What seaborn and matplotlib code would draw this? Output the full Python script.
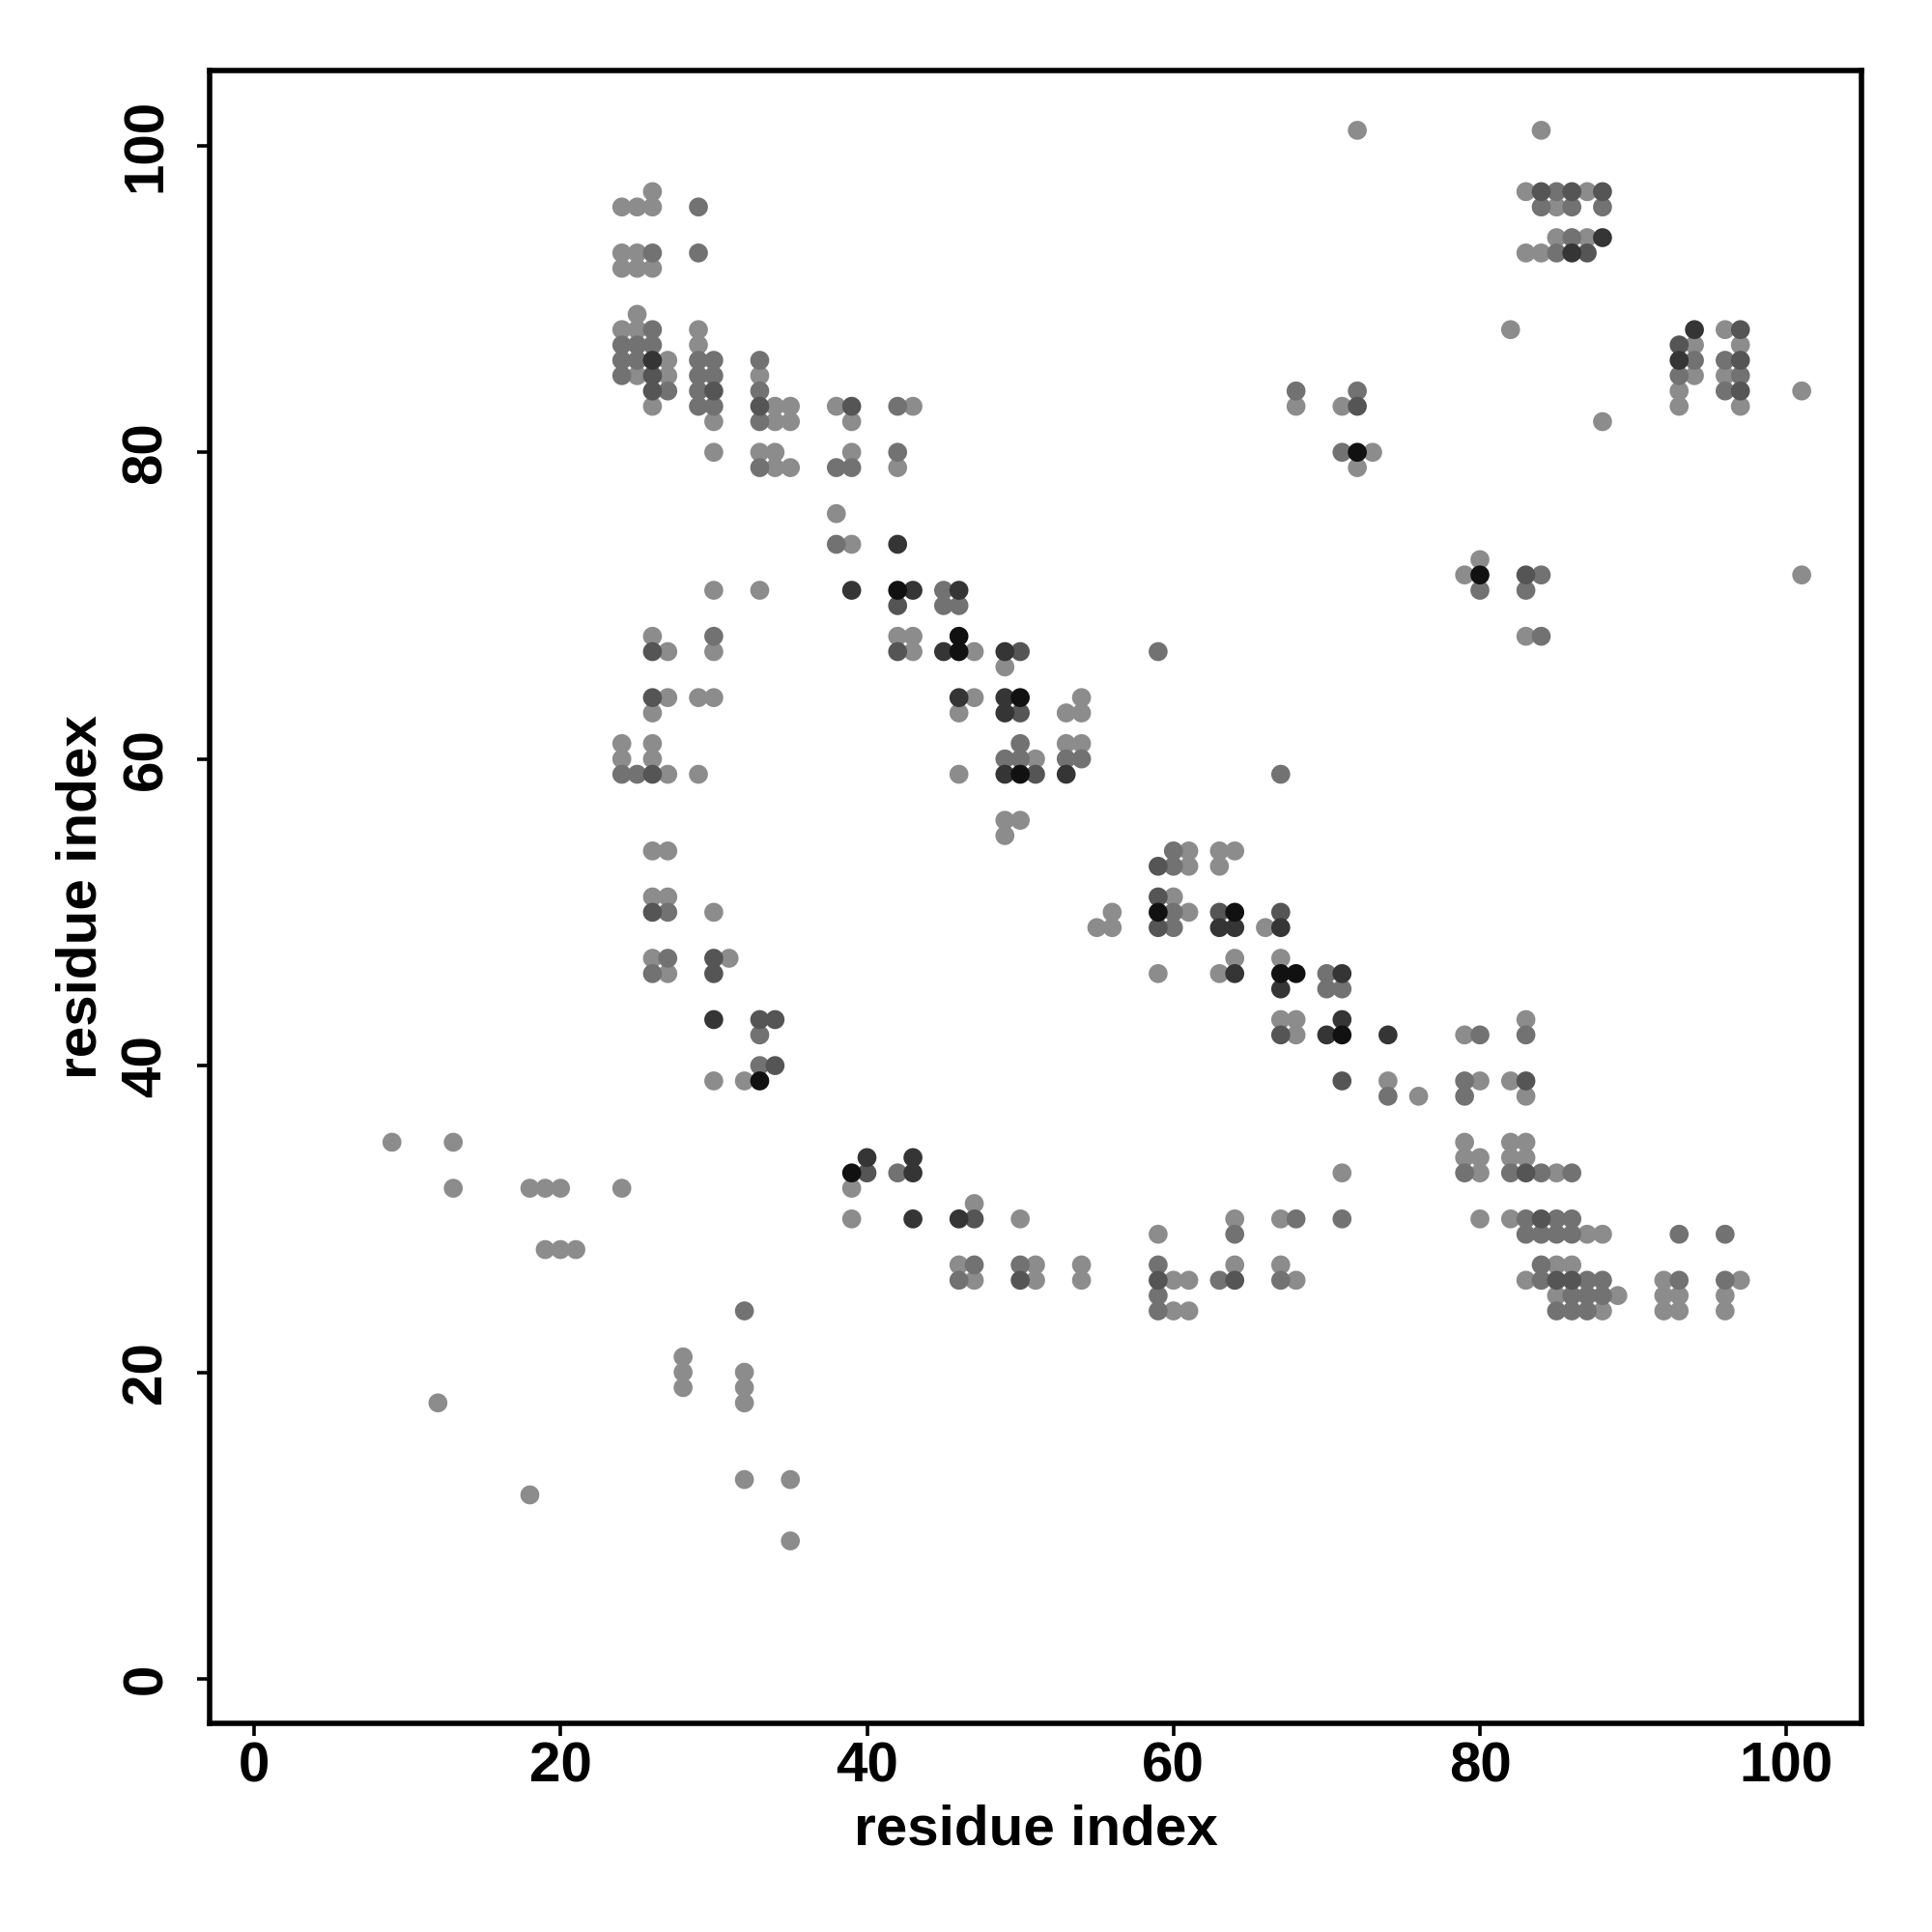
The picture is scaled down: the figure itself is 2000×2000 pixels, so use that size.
import matplotlib
matplotlib.use("Agg")
import matplotlib.pyplot as plt
import seaborn as sns
import pandas as pd

# contact map points: (residue i, residue j, shade level 1 light ... 5 black)
upper_left = [
    (26, 97, 1),
    (24, 96, 1), (25, 96, 1), (26, 96, 1), (29, 96, 2),
    (24, 93, 1), (25, 93, 1), (26, 93, 2), (29, 93, 2),
    (24, 92, 1), (25, 92, 1), (26, 92, 1),
    (25, 89, 1),
    (24, 88, 1), (25, 88, 1), (26, 88, 2), (29, 88, 1),
    (24, 87, 2), (25, 87, 2), (26, 87, 2), (29, 87, 1),
    (24, 86, 2), (25, 86, 2), (26, 86, 4), (27, 86, 1), (29, 86, 2), (30, 86, 2),
    (24, 85, 2), (25, 85, 1), (26, 85, 3), (27, 85, 1), (29, 85, 2), (30, 85, 2),
    (26, 84, 3), (27, 84, 2), (29, 84, 2), (30, 84, 3),
    (26, 83, 1), (29, 83, 2), (30, 83, 2),
    (30, 82, 1), (30, 80, 1),
    (33, 86, 2), (33, 85, 1), (33, 84, 2), (33, 83, 3), (33, 82, 2), (33, 80, 1), (33, 79, 2),
    (34, 83, 1), (34, 82, 1), (34, 80, 1), (34, 79, 1),
    (35, 83, 1), (35, 82, 1), (35, 79, 1),
]
diagonal_a = [
    (38, 83, 1), (39, 83, 3), (42, 83, 2), (43, 83, 1),
    (39, 82, 1), (39, 80, 1), (42, 80, 2),
    (38, 79, 2), (39, 79, 2), (42, 79, 1),
    (38, 76, 1),
    (38, 74, 2), (39, 74, 1), (42, 74, 4),
    (33, 71, 1), (39, 71, 4), (42, 71, 5), (43, 71, 4), (45, 71, 2), (46, 71, 4),
    (42, 70, 3), (45, 70, 2), (46, 70, 2),
    (42, 68, 1), (43, 68, 1), (46, 68, 5),
    (42, 67, 3), (43, 67, 1), (45, 67, 4), (46, 67, 5), (47, 67, 1), (49, 67, 4), (50, 67, 3),
    (49, 66, 1),
    (46, 64, 4), (47, 64, 1), (49, 64, 4), (50, 64, 5), (54, 64, 1),
    (46, 63, 1), (49, 63, 4), (50, 63, 3), (53, 63, 1), (54, 63, 1),
    (50, 61, 2), (53, 61, 1), (54, 61, 1),
    (49, 60, 2), (50, 60, 2), (51, 60, 1), (53, 60, 2), (54, 60, 2),
    (46, 59, 1), (49, 59, 4), (50, 59, 5), (51, 59, 3), (53, 59, 4),
    (49, 56, 1), (50, 56, 1), (49, 55, 1),
    (56, 50, 1), (55, 49, 1), (56, 49, 1),
]
left_middle = [
    (30, 71, 1), (26, 68, 1), (30, 68, 2),
    (26, 67, 3), (27, 67, 1), (30, 67, 1),
    (26, 64, 3), (27, 64, 1), (29, 64, 1), (30, 64, 1),
    (26, 63, 1), (24, 61, 1), (26, 61, 1), (24, 60, 1), (26, 60, 1),
    (24, 59, 2), (25, 59, 2), (26, 59, 3), (27, 59, 1), (29, 59, 1),
    (26, 54, 1), (27, 54, 1), (26, 51, 1), (27, 51, 1),
    (26, 50, 3), (27, 50, 2), (30, 50, 1),
    (26, 47, 1), (27, 47, 2), (30, 47, 3), (31, 47, 1),
    (26, 46, 2), (27, 46, 1), (30, 46, 3),
    (30, 43, 4), (33, 43, 3), (34, 43, 3),
    (33, 42, 2), (33, 40, 2), (34, 40, 3),
    (30, 39, 1), (32, 39, 1), (33, 39, 5),
]
lower_left = [
    (9, 35, 1), (13, 35, 1), (13, 32, 1), (18, 32, 1), (19, 32, 1), (20, 32, 1), (24, 32, 1),
    (19, 28, 1), (20, 28, 1), (21, 28, 1),
    (32, 24, 2), (28, 21, 1), (28, 20, 1), (28, 19, 1),
    (32, 20, 1), (32, 19, 1), (32, 18, 1), (12, 18, 1),
    (32, 13, 1), (35, 13, 1), (18, 12, 1), (35, 9, 1),
]
lower_band = [
    (39, 33, 5), (40, 34, 4), (40, 33, 3), (42, 33, 2), (43, 34, 4), (43, 33, 4),
    (39, 32, 1), (47, 31, 1),
    (39, 30, 1), (43, 30, 4), (46, 30, 4), (47, 30, 3), (50, 30, 1),
    (46, 27, 1), (47, 27, 2), (50, 27, 2), (51, 27, 1), (54, 27, 1),
    (46, 26, 2), (47, 26, 1), (50, 26, 3), (51, 26, 1), (54, 26, 1),
    (59, 29, 1), (64, 30, 1), (64, 29, 2), (67, 30, 1), (68, 30, 2), (71, 30, 2), (71, 33, 1),
    (59, 27, 2), (64, 27, 1), (67, 27, 1),
    (59, 26, 3), (60, 26, 1), (61, 26, 1), (63, 26, 2), (64, 26, 3), (67, 26, 2), (68, 26, 1),
    (59, 25, 2), (59, 24, 2), (60, 24, 1), (61, 24, 1),
]
diagonal_b = [
    (67, 59, 2), (59, 67, 2),
    (60, 54, 2), (61, 54, 1), (63, 54, 1), (64, 54, 1),
    (59, 53, 3), (60, 53, 2), (61, 53, 1), (63, 53, 1),
    (59, 51, 3), (60, 51, 1),
    (59, 50, 5), (60, 50, 2), (61, 50, 1), (63, 50, 3), (64, 50, 5), (67, 50, 3),
    (59, 49, 3), (60, 49, 2), (63, 49, 4), (64, 49, 4), (66, 49, 1), (67, 49, 4),
    (64, 47, 1), (67, 47, 1),
    (59, 46, 1), (63, 46, 1), (64, 46, 4), (67, 46, 5), (68, 46, 5), (70, 46, 2), (71, 46, 4),
    (67, 45, 4), (70, 45, 2), (71, 45, 2),
    (67, 43, 1), (68, 43, 1), (71, 43, 4),
    (67, 42, 3), (68, 42, 1), (70, 42, 4), (71, 42, 5), (74, 42, 4), (79, 42, 1), (80, 42, 2),
    (71, 39, 3), (74, 39, 1), (79, 39, 2), (80, 39, 1), (82, 39, 1), (83, 39, 3),
    (74, 38, 2), (76, 38, 1), (79, 38, 2), (83, 38, 1),
    (79, 35, 1), (82, 35, 1), (83, 35, 1),
    (79, 34, 1), (80, 34, 1), (82, 34, 1), (83, 34, 1),
    (79, 33, 2), (80, 33, 1), (82, 33, 2), (83, 33, 3), (84, 33, 2), (85, 33, 1), (86, 33, 2),
    (83, 43, 1), (83, 42, 2),
]
lower_right = [
    (80, 30, 1), (82, 30, 1), (83, 30, 2), (84, 30, 3), (85, 30, 2), (86, 30, 2),
    (83, 29, 2), (84, 29, 2), (85, 29, 2), (86, 29, 2), (87, 29, 1), (88, 29, 1),
    (93, 29, 2), (96, 29, 2),
    (84, 27, 2), (85, 27, 1), (86, 27, 1),
    (83, 26, 1), (84, 26, 2), (85, 26, 3), (86, 26, 3), (87, 26, 2), (88, 26, 2),
    (92, 26, 1), (93, 26, 2), (96, 26, 2), (97, 26, 1),
    (85, 25, 1), (86, 25, 2), (87, 25, 2), (88, 25, 2), (89, 25, 1),
    (92, 25, 1), (93, 25, 1), (96, 25, 1),
    (85, 24, 2), (86, 24, 2), (87, 24, 2), (88, 24, 1), (92, 24, 1), (93, 24, 1), (96, 24, 1),
]
upper_right = [
    (72, 101, 1), (84, 101, 1),
    (83, 97, 1), (84, 97, 3), (85, 97, 2), (86, 97, 3), (87, 97, 1), (88, 97, 3),
    (84, 96, 2), (85, 96, 1), (86, 96, 2), (88, 96, 2),
    (85, 94, 1), (86, 94, 2), (87, 94, 1), (88, 94, 4),
    (83, 93, 1), (84, 93, 1), (85, 93, 2), (86, 93, 4), (87, 93, 3),
    (82, 88, 1), (88, 82, 1),
    (68, 84, 2), (68, 83, 1), (72, 84, 2), (71, 83, 1), (72, 83, 3),
    (71, 80, 2), (72, 80, 5), (73, 80, 1), (72, 79, 1),
    (80, 73, 1), (79, 72, 1), (80, 72, 5), (80, 71, 2),
    (83, 72, 3), (84, 72, 2), (83, 71, 2), (83, 68, 1), (84, 68, 2),
    (101, 84, 1), (101, 72, 1),
    (94, 88, 4), (96, 88, 1), (97, 88, 3),
    (93, 87, 3), (94, 87, 1), (97, 87, 1),
    (93, 86, 4), (94, 86, 2), (96, 86, 2), (97, 86, 3),
    (93, 85, 2), (94, 85, 1), (96, 85, 1), (97, 85, 2),
    (93, 84, 1), (96, 84, 2), (97, 84, 3),
    (93, 83, 1), (97, 83, 1),
]

shade_colors = {1: "#8c8c8c", 2: "#727272", 3: "#555555", 4: "#353535", 5: "#111111"}

points = (upper_left + diagonal_a + left_middle + lower_left + lower_band
          + diagonal_b + lower_right + upper_right)
df = pd.DataFrame(points, columns=["i", "j", "shade"]).sort_values("shade", kind="stable")

sns.set_style("white")
plt.rcParams["font.family"] = ["Liberation Sans", "DejaVu Sans"]
plt.rcParams["font.weight"] = "bold"
plt.rcParams["text.color"] = "black"
plt.rcParams["axes.labelcolor"] = "black"
plt.rcParams["xtick.color"] = "black"
plt.rcParams["ytick.color"] = "black"

fig = plt.figure(figsize=(10, 10), dpi=200)
ax = fig.add_axes([0.1085, 0.108, 0.855, 0.8555])

sns.scatterplot(data=df, x="i", y="j", hue="shade", palette=shade_colors,
                s=50, linewidth=0, legend=False, ax=ax, zorder=3)

ax.set_xlim(-2.9, 104.9)
ax.set_ylim(-2.9, 104.9)
ticks = [0, 20, 40, 60, 80, 100]
tick_labels = ["0", "20", "40", "60", "80", "100"]
ax.set_xticks(ticks)
ax.set_yticks(ticks)
ax.set_xticklabels(tick_labels, fontsize=21, fontweight="bold", color="black")
ax.set_yticklabels(tick_labels, fontsize=21, fontweight="bold", color="black",
                   rotation=90, va="center")
ax.tick_params(axis="both", direction="out", length=4.7, width=1.3, color="black",
               labelcolor="black", bottom=True, left=True, top=False, right=False)
ax.tick_params(axis="x", pad=2)
ax.tick_params(axis="y", pad=9)
ax.set_xlabel("residue index", fontsize=21, fontweight="bold", color="black", labelpad=4)
ax.set_ylabel("residue index", fontsize=21, fontweight="bold", color="black", labelpad=5)

for sp in ax.spines.values():
    sp.set_visible(True)
    sp.set_color("black")
    sp.set_linewidth(2.0)
ax.grid(False)

fig.savefig("out.png", dpi=200, facecolor="white")
